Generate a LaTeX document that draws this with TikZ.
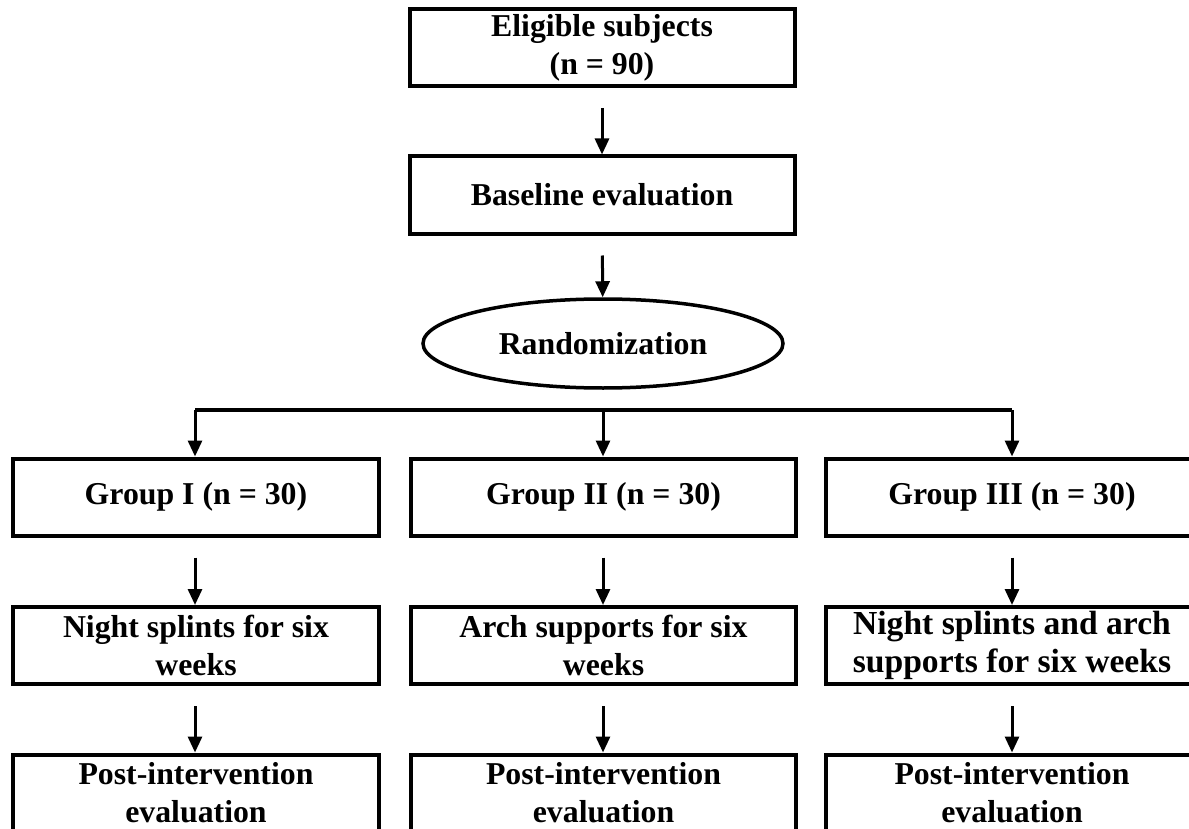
\documentclass[tikz,border=0pt]{standalone}
\usepackage{fontspec}
\setmainfont{Liberation Serif}
\usetikzlibrary{shapes.geometric,arrows.meta}

\begin{document}
\begin{tikzpicture}[x=0.5pt, y=-0.5pt,
        box/.style = {draw, rectangle, line width=2pt, inner sep=0pt, minimum height=38.5pt, align=center, font=\fontsize{15.9}{19}\selectfont\bfseries},
        oval/.style = {draw, ellipse, line width=1.75pt, inner sep=0pt, minimum width=180pt, minimum height=44.5pt, font=\fontsize{15.9}{19}\selectfont\bfseries},
        arr/.style = {-{Triangle[width=7pt, length=8pt]}, line width=1.5pt},
        gap/.style = {shorten <=10pt}]
        \useasboundingbox (0,0) rectangle (1189,829);
        \clip (0,0) rectangle (1189,829);
        % top part
        \node[box, minimum width=192.5pt] (1) at (602,47.5) {Eligible subjects\\(n = 90)};
        \node[box, minimum width=192.5pt] (2) at (602,195) {Baseline evaluation};
        \node[oval] (3) at (603,343.5) {Randomization};
        % three groups
        \node[box, minimum width=183pt] (4) at (196,497) {Group I (n = 30)};
        \node[box, minimum width=192.5pt] (5) at (603.5,497) {Group II (n = 30)};
        \node[box, minimum width=186pt] (6) at (1012,497) {Group III (n = 30)};
        \node[box, minimum width=183pt] (7) at (196,645.5) {Night splints for six\\weeks};
        \node[box, minimum width=192.5pt] (8) at (603.5,645.5) {Arch supports for six\\weeks};
        \node[box, minimum width=186pt, font=\fontsize{16.8}{19}\selectfont\bfseries] (9) at (1012,645.5) {Night splints and arch\\supports for six weeks};
        \node[box, minimum width=183pt] (10) at (196,793) {Post-intervention\\evaluation};
        \node[box, minimum width=192.5pt] (11) at (603.5,793) {Post-intervention\\evaluation};
        \node[box, minimum width=186pt] (12) at (1012,793) {Post-intervention\\evaluation};
        \coordinate (s) at (603,410);
        \coordinate (s1) at (195,410);
        \coordinate (s3) at (1012,410);
        \draw[arr, gap] (1) -- (2);
        \draw[arr, gap] (2) -- (3);
        \draw[line width=2pt] (s1) -- (s3);
        \draw[arr] (s1) -- (s1 |- 4.north);
        \draw[arr] (s) -- (s |- 5.north);
        \draw[arr] (s3) -- (s3 |- 6.north);
        \draw[arr, gap] (s1 |- 4.south) -- (s1 |- 7.north);
        \draw[arr, gap] (s |- 5.south) -- (s |- 8.north);
        \draw[arr, gap] (s3 |- 6.south) -- (s3 |- 9.north);
        \draw[arr, gap] (s1 |- 7.south) -- (s1 |- 10.north);
        \draw[arr, gap] (s |- 8.south) -- (s |- 11.north);
        \draw[arr, gap] (s3 |- 9.south) -- (s3 |- 12.north);
    \end{tikzpicture}
\end{document}
